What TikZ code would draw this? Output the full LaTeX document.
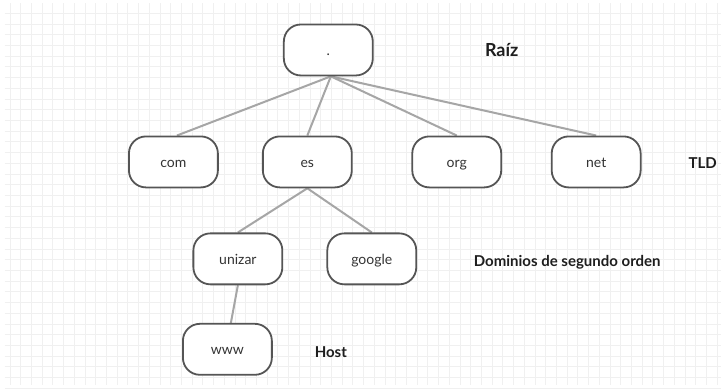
\documentclass[tikz,border=0pt]{standalone}
\usepackage{fontspec}
\setmainfont{Lato}
\usetikzlibrary{backgrounds}
\definecolor{gridc}{HTML}{F0F0F0}
\definecolor{boxc}{HTML}{555555}
\definecolor{edgec}{HTML}{A6A6A6}
\definecolor{txtc}{HTML}{333333}
\definecolor{labc}{HTML}{1E1E1E}
\tikzset{
  dnsbox/.style={draw=boxc, line width=1.8pt, rounded corners=17pt, fill=white,
    minimum width=89pt, minimum height=51pt, inner sep=0pt,
    text height=11pt, text depth=0pt,
    font=\fontsize{14}{16}\selectfont, text=txtc},
  link/.style={draw=edgec, line width=2pt},
  gridline/.style={draw=gridc, line width=0.8pt},
  levellabel/.style={font=\bfseries\fontsize{15}{17}\selectfont, text=labc, inner sep=0pt}
}
\begin{document}
\begin{tikzpicture}[x=1pt,y=-1pt]
% nodes
\node[dnsbox] (root) at (328.5,50) {.};
\node[dnsbox] (com) at (173.5,162) {com};
\node[dnsbox] (es) at (307.5,162) {es};
\node[dnsbox] (org) at (457,162) {org};
\node[dnsbox] (net) at (596.5,162) {net};
\node[dnsbox] (unizar) at (238,259) {unizar};
\node[dnsbox] (google) at (372,259) {google};
\node[dnsbox] (www) at (227.5,349.5) {www};
% level labels
\node[levellabel, font=\bfseries\fontsize{18}{20}\selectfont] (raiz) at (502,50) {Raíz};
\node[levellabel] (tld) at (703,163) {TLD};
\node[levellabel] (dom) at (567.5,262) {Dominios de segundo orden};
\node[levellabel] (host) at (331,352) {Host};
\begin{scope}[on background layer]
\fill[white] (0,0) rectangle (721,385);
\foreach \i in {0,...,66} {
  \draw[gridline] ({10+\i*10.72},3) -- ({10+\i*10.72},385);
}
\foreach \j in {0,...,35} {
  \draw[gridline] (5,{13.3+\j*10.72}) -- (721,{13.3+\j*10.72});
}
% connectors
\draw[link] ([xshift=2.5pt]root.south) -- ([xshift=3.5pt]com.north);
\draw[link] ([xshift=2.5pt]root.south) -- (es.north);
\draw[link] ([xshift=2.5pt]root.south) -- (org.north);
\draw[link] ([xshift=2.5pt]root.south) -- (net.north);
\draw[link] (es.south) -- (unizar.north);
\draw[link] (es.south) -- (google.north);
\draw[link] (unizar.south) -- ([xshift=3.5pt]www.north);
\end{scope}
\useasboundingbox (0,0) rectangle (721,385);
\end{tikzpicture}
\end{document}
